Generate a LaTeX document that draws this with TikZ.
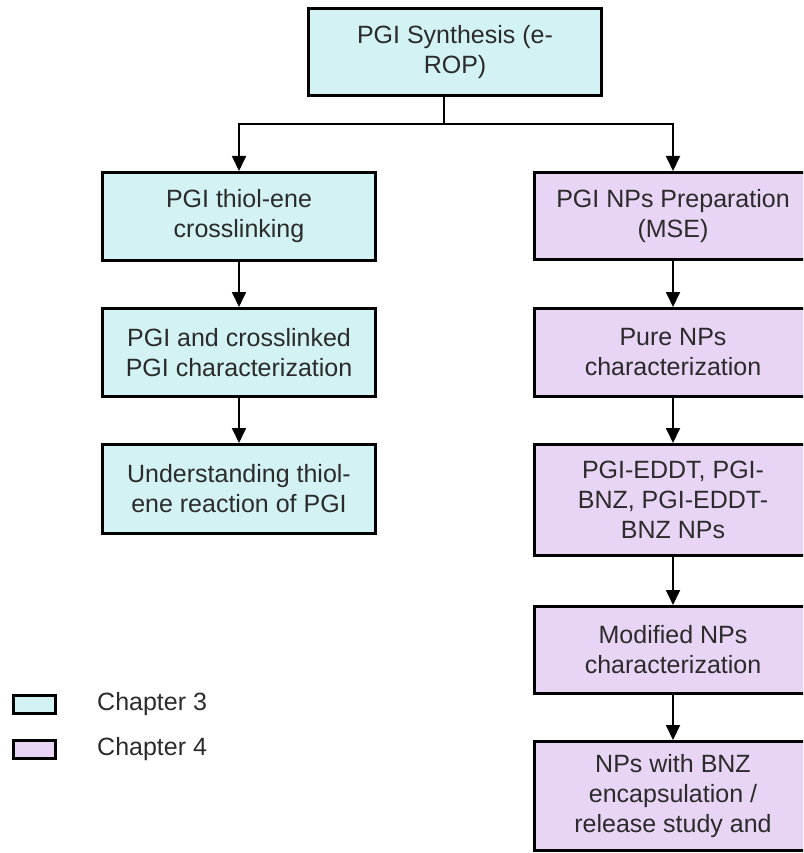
\documentclass[tikz,border=0pt]{standalone}
\usepackage{fontspec}
\setmainfont{Liberation Sans}
\usetikzlibrary{arrows.meta}
\definecolor{cthree}{HTML}{D3F2F4}
\definecolor{cfour}{HTML}{E8D4F4}
\definecolor{txt}{HTML}{2B2B2B}
\tikzset{
  box/.style={draw=black, line width=3pt, inner sep=0pt, align=center, text=txt,
    font=\fontsize{25}{30}\selectfont},
  chthree/.style={box, fill=cthree},
  chfour/.style={box, fill=cfour, minimum width=300pt},
  rtext/.style={label={[align=center, text=txt, inner sep=0pt, font=\fontsize{25}{30}\selectfont, xshift=-11pt]center:{#1}}},
  arr/.style={line width=1.8pt, -{Triangle[length=15pt,width=14pt]}},
  conn/.style={line width=1.8pt},
  legbox/.style={draw=black, line width=3pt, inner sep=0pt, minimum width=42pt, minimum height=18pt},
  legtext/.style={anchor=west, inner sep=0pt, text=txt, font=\fontsize{25}{30}\selectfont}
}
\begin{document}
\begin{tikzpicture}[x=1pt,y=-1pt]
\useasboundingbox (0,0) rectangle (803,853);
\clip (0,0) rectangle (803,853);
\node[chthree, minimum width=293pt, minimum height=87pt] (top) at (455,52) {PGI Synthesis (e-\\ROP)};
\node[chthree, minimum width=273pt, minimum height=88pt] (b1) at (239,216.5) {PGI thiol-ene\\crosslinking};
\node[chthree, minimum width=273pt, minimum height=88pt] (b2) at (239,352.5) {PGI and crosslinked\\PGI characterization};
\node[chthree, minimum width=273pt, minimum height=89pt] (b3) at (239,489) {Understanding thiol-\\ene reaction of PGI};
\node[chfour, minimum height=87pt, rtext={PGI NPs Preparation\\(MSE)}] (r1) at (684,216) {};
\node[chfour, minimum height=88pt, rtext={Pure NPs\\characterization}] (r2) at (684,352.5) {};
\node[chfour, minimum height=111pt, rtext={PGI-EDDT, PGI-\\BNZ, PGI-EDDT-\\BNZ NPs}] (r3) at (684,500) {};
\node[chfour, minimum height=87pt, rtext={Modified NPs\\characterization}] (r4) at (684,650) {};
\node[chfour, minimum height=109pt, rtext={NPs with BNZ\\encapsulation /\\release study and}] (r5) at (684,796) {};
\coordinate (jc) at (444,124);
\coordinate (jl) at (239,124);
\coordinate (jr) at (673,124);
\draw[conn] (jc |- top.south) -- (jc);
\draw[arr] (jc) -- (jl) -- (b1.north);
\draw[arr] (jc) -- (jr) -- (jr |- r1.north);
\draw[arr] (b1) -- (b2);
\draw[arr] (b2) -- (b3);
\draw[arr] (jr |- r1.south) -- (jr |- r2.north);
\draw[arr] (jr |- r2.south) -- (jr |- r3.north);
\draw[arr] (jr |- r3.south) -- (jr |- r4.north);
\draw[arr] (jr |- r4.south) -- (jr |- r5.north);
\node[legbox, fill=cthree] (l3) at (34.5,704.5) {};
\node[legbox, fill=cfour] (l4) at (34.5,749.5) {};
\node[legtext] (t3) at (97,704) {Chapter 3};
\node[legtext] (t4) at (97,749) {Chapter 4};
\end{tikzpicture}
\end{document}
